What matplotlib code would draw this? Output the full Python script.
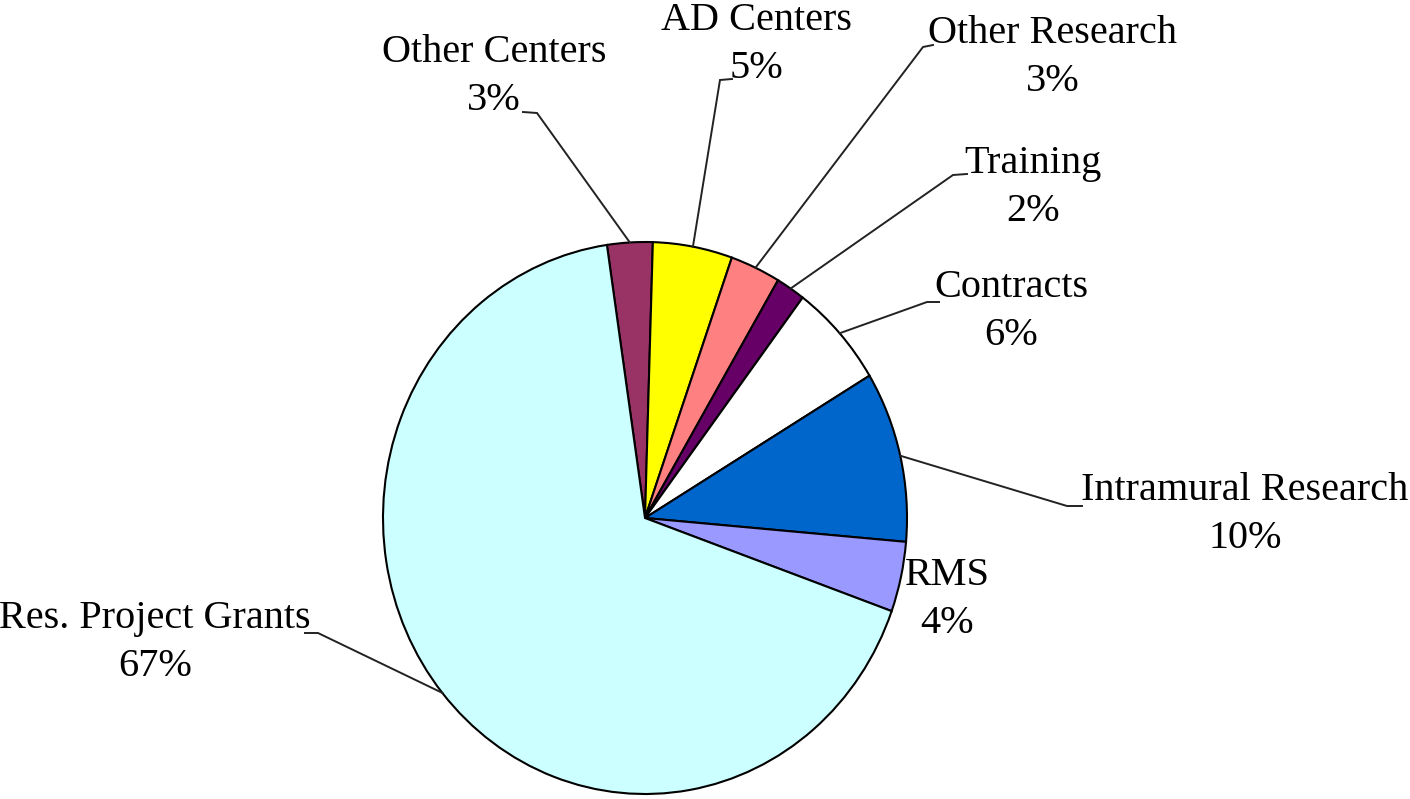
import numpy as np
import matplotlib.pyplot as plt

# Budget shares (percent), clockwise from the top
categories = ['Other Centers', 'AD Centers', 'Other Research', 'Training',
              'Contracts', 'Intramural Research', 'RMS', 'Res. Project Grants']
shares = [2.8, 4.9, 3.1, 1.8, 6.1, 10.0, 4.1, 67.2]
colors = ['#993366', '#FFFF00', '#FF8080', '#660066',
          '#FFFFFF', '#0066CC', '#9999FF', '#CCFFFF']

# label layout in image pixels: (center x, baseline y of the percent line)
label_pos = [(494, 110), (756, 78), (1053, 91), (1033, 221),
             (1011, 345), (1245, 548), (947, 633), (155, 676)]
# leader lines: elbow and end point in pixels (None = no leader)
leaders = [((537, 113), (523, 112)), ((720, 80), (732, 79)),
           ((923, 47), (933, 45)), ((953, 175), (967, 174)),
           ((927, 302), (939, 302)), ((1067, 506), (1082, 506)),
           None, ((318, 633), (305, 633))]

W, H = 1410, 799
cx, cy, rx, ry = 645, 518, 262, 276


def px(x, y):
    return (x - cx) / rx, (cy - y) / ry


fig = plt.figure(figsize=(W / 100, H / 100), dpi=100)
ax = fig.add_axes([0, 0, 1, 1])

wedges, _ = ax.pie(shares, colors=colors, startangle=98.36, counterclock=False,
                   wedgeprops=dict(edgecolor='black', linewidth=1.5))
ax.set_aspect('auto')
ax.set_xlim(-cx / rx, (W - cx) / rx)
ax.set_ylim(-(H - cy) / ry, cy / ry)
ax.axis('off')

for w, name, val, pos, ld in zip(wedges, categories, shares, label_pos, leaders):
    x, y = px(*pos)
    ax.text(x, y, f'{name}\n{round(val)}%', ha='center', va='baseline',
            multialignment='center', fontsize=29, family='Liberation Serif',
            linespacing=1.4)
    if ld is None:
        continue
    mid = np.deg2rad((w.theta1 + w.theta2) / 2)
    ex, ey = px(*ld[0])
    tx, ty = px(*ld[1])
    ax.plot([np.cos(mid), ex, tx], [np.sin(mid), ey, ty],
            color='#222222', lw=1.4, solid_joinstyle='miter')

fig.savefig('out.png', dpi=100)
